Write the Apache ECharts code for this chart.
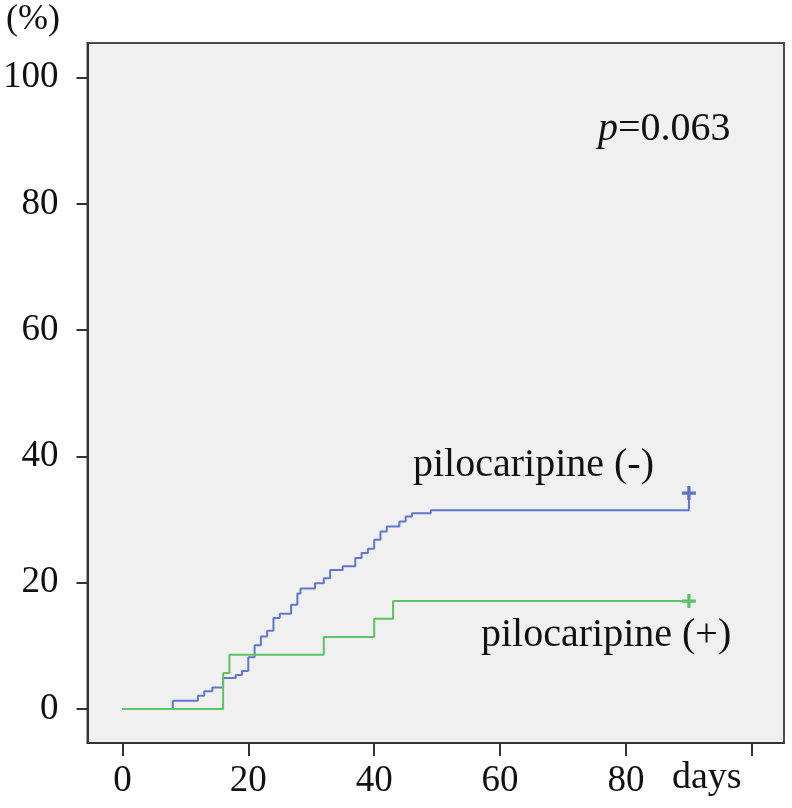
<!DOCTYPE html>
<html>
<head>
<meta charset="utf-8">
<script src="https://cdn.jsdelivr.net/npm/echarts@6/dist/echarts.min.js"></script>
<style>
  html, body { margin: 0; padding: 0; background: #fff; }
  #main { width: 792px; height: 808px; }
</style>
</head>
<body>
<div id="main"></div>
<script>
  // pilocaripine (-) : cumulative %, steps
  const blueDays = [0, 8, 12, 13, 14.3, 16, 18, 19, 20, 21, 22, 23, 24, 25, 26.8, 27.8, 28.3, 30.6, 32, 33, 35, 37, 38, 39, 40, 41, 42, 44, 45, 46, 49, 90]
  const blueVals = [0, 1.3, 2.1, 2.8, 3.4, 4.9, 5.4, 6.0, 8.2, 10.1, 11.5, 12.4, 14.4, 15.1, 16.5, 18.3, 19.1, 19.9, 20.7, 22.0, 22.6, 23.9, 24.7, 25.4, 26.8, 28.1, 28.9, 29.7, 30.5, 31.0, 31.5, 34.2]
  // pilocaripine (+)
  const greenDays = [0, 16, 17, 32, 40, 43, 90]
  const greenVals = [0, 5.7, 8.6, 11.4, 14.3, 17.1, 17.1]
  // censored points
  const blueCensor = [[90, 34.2]]
  const greenCensor = [[90, 17.1]]

  const xTicks = [0, 20, 40, 60, 80, 100]
  const xLabels = [0, 20, 40, 60, 80]
  const yTicks = [0, 20, 40, 60, 80, 100]

  const serif = 'Liberation Serif'
  const plus = 'path://M-1.4,-6H1.4V-1.4H6V1.4H1.4V6H-1.4V1.4H-6V-1.4H-1.4Z'

  function pairs(xs, ys) {
    return xs.map((x, i) => [x, ys[i]])
  }

  const chart = echarts.init(document.getElementById('main'))

  let option = {
    animation: false,
    backgroundColor: '#ffffff',
    grid: {
      left: 85,
      right: 8,
      top: 43,
      bottom: 65,
      show: true,
      backgroundColor: '#f0f0f0',
      borderColor: '#4a4a4a',
      borderWidth: 2
    },
    xAxis: {
      type: 'value',
      min: -5.54,
      max: 105.1,
      splitLine: {show: false},
      axisLine: {show: true, onZero: false, lineStyle: {color: '#333', width: 2}},
      axisTick: {show: true, length: 13, customValues: xTicks, lineStyle: {color: '#333', width: 2}},
      axisLabel: {
        customValues: xLabels,
        margin: 20,
        fontFamily: serif,
        fontSize: 37,
        color: '#111'
      }
    },
    yAxis: {
      type: 'value',
      min: -5.39,
      max: 105.5,
      splitLine: {show: false},
      axisLine: {show: true, onZero: false, lineStyle: {color: '#333', width: 2}},
      axisTick: {show: true, length: 11, customValues: yTicks, lineStyle: {color: '#333', width: 2}},
      axisLabel: {
        customValues: yTicks,
        margin: 29,
        fontFamily: serif,
        fontSize: 37,
        color: '#111'
      }
    },
    graphic: [
      {type: 'text', left: 6, top: 2, style: {text: '(%)', font: '36px "Liberation Serif"', fill: '#111'}},
      {type: 'text', left: 672, top: 759, style: {text: 'days', font: '38px "Liberation Serif"', fill: '#111'}},
      {type: 'text', left: 413, top: 445, style: {text: 'pilocaripine (-)', font: '40px "Liberation Serif"', fill: '#111'}},
      {type: 'text', left: 481, top: 615, style: {text: 'pilocaripine (+)', font: '40px "Liberation Serif"', fill: '#111'}},
      {
        type: 'text', left: 598, top: 109,
        style: {
          text: '{i|p}=0.063',
          font: '40px "Liberation Serif"',
          fill: '#111',
          rich: {i: {fontFamily: serif, fontSize: 40, fontStyle: 'italic', fill: '#111'}}
        }
      }
    ],
    series: [
      {
        name: 'pilocaripine (-)',
        type: 'line',
        step: 'end',
        data: pairs(blueDays, blueVals),
        showSymbol: false,
        lineStyle: {color: '#6277cc', width: 2}
      },
      {
        name: 'pilocaripine (+)',
        type: 'line',
        step: 'end',
        data: pairs(greenDays, greenVals),
        showSymbol: false,
        lineStyle: {color: '#5cc463', width: 2}
      },
      {
        type: 'scatter',
        data: blueCensor,
        symbol: plus,
        symbolSize: 14,
        itemStyle: {color: '#3a52b4'}
      },
      {
        type: 'scatter',
        data: greenCensor,
        symbol: plus,
        symbolSize: 14,
        itemStyle: {color: '#35b548'}
      }
    ]
  }

  chart.setOption(option)
</script>
</body>
</html>
